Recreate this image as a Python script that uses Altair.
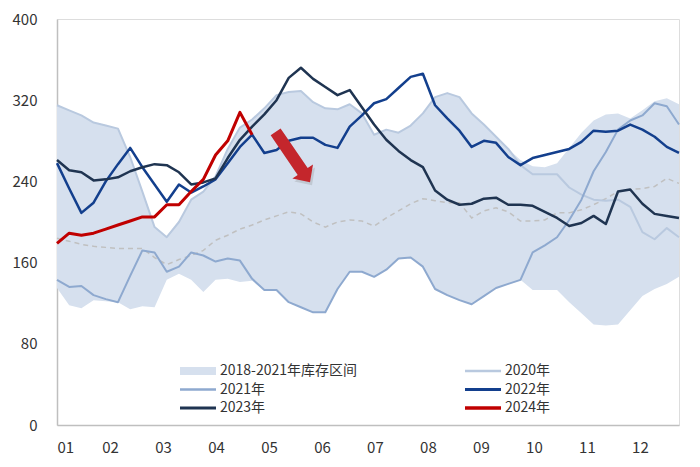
import altair as alt
import pandas as pd

# ---------------- data ----------------
weeks = list(range(1, 53))

band_high = [315, 310, 305, 298, 295, 292, 264, 230, 195, 185, 200, 222, 230, 245, 272, 293,
             301, 312, 325, 328, 329, 318, 312, 311, 316, 307, 286, 291, 288, 295, 307, 323,
             327, 323, 307, 296, 284, 272, 261, 255, 254, 258, 273, 288, 300, 306, 307, 302,
             310, 319, 322, 316]
band_low = [135, 118, 115, 123, 122, 121, 114, 117, 116, 143, 149, 143, 131, 143, 144, 141,
            142, 133, 133, 121, 116, 111, 111, 134, 151, 151, 146, 153, 164, 165, 156, 134,
            128, 123, 119, 127, 135, 139, 143, 133, 133, 133, 121, 110, 99, 98, 99, 113,
            127, 134, 139, 146]
avg_line = [184, 181, 178, 176, 175, 174, 174, 174, 165, 158, 163, 167, 172, 182, 187, 193,
            197, 202, 206, 210, 208, 200, 195, 200, 202, 201, 196, 204, 211, 218, 223, 221,
            219, 219, 204, 211, 214, 210, 201, 201, 202, 209, 209, 212, 217, 223, 230, 232,
            233, 235, 243, 238]
y2020 = [315, 310, 305, 298, 295, 292, 264, 230, 195, 185, 200, 222, 230, 245, 272, 293,
         301, 312, 325, 328, 329, 318, 312, 311, 316, 307, 286, 291, 288, 295, 307, 323,
         327, 323, 307, 296, 284, 272, 256, 247, 247, 247, 234, 227, 222, 221, 222, 215,
         190, 183, 194, 185]
y2021 = [143, 136, 137, 128, 124, 121, 147, 172, 170, 151, 156, 170, 167, 161, 164, 162,
         144, 133, 133, 121, 116, 111, 111, 134, 151, 151, 146, 153, 164, 165, 156, 134,
         128, 123, 119, 127, 135, 139, 143, 170, 177, 185, 202, 222, 250, 269, 291, 300,
         305, 317, 314, 296]
y2022 = [258, 233, 209, 219, 240, 257, 273, 254, 237, 220, 237, 229, 235, 242, 258, 274,
         286, 268, 271, 280, 283, 283, 276, 273, 294, 305, 317, 321, 332, 343, 346, 315,
         302, 290, 274, 280, 278, 264, 256, 263, 266, 269, 272, 279, 290, 289, 290, 296,
         291, 284, 274, 268]
y2023 = [261, 251, 249, 241, 242, 244, 250, 254, 257, 256, 249, 237, 239, 243, 263, 281,
         294, 306, 320, 342, 352, 341, 333, 325, 330, 313, 296, 281, 270, 261, 254, 231,
         222, 217, 218, 223, 224, 217, 217, 216, 210, 204, 196, 199, 206, 198, 230, 232,
         218, 208, 206, 204]
y2024 = [179, 189, 187, 189, 193, 197, 201, 205, 205, 217, 217, 230, 242, 266, 280, 308, 286]

month_ticks = list(range(1, 13))
y_ticks = [0, 80, 160, 240, 320, 400]

series_names = ["2018-2021年库存区间", "2020年", "2021年", "2022年", "2023年", "2024年"]
series_colors = ["#d6e0ee", "#b9c9df", "#8ea9cf", "#133f8d", "#1f3451", "#c00000"]
line_widths = [2, 2, 2, 2.5, 2.5, 3]
legend_shapes = [
    "M-1,-0.22L1,-0.22L1,0.22L-1,0.22Z",
    "M-1,-0.07L1,-0.07L1,0.07L-1,0.07Z",
    "M-1,-0.07L1,-0.07L1,0.07L-1,0.07Z",
    "M-1,-0.08L1,-0.08L1,0.08L-1,0.08Z",
    "M-1,-0.09L1,-0.09L1,0.09L-1,0.09Z",
    "M-1,-0.1L1,-0.1L1,0.1L-1,0.1Z",
]

# arrow annotation (data coordinates: month position, value)
arrow_x = [5.45]
arrow_y = [264]
arrow_path = "M-0.197,1L0.197,1L0.197,-0.574L0.41,-0.574L0,-1L-0.41,-0.574L-0.197,-0.574Z"

# ---------------- tables ----------------
def mpos(w):
    return 1 + (w - 1) * 12 / 52.14

band_df = pd.DataFrame({"x": [mpos(w) for w in weeks], "v": band_high, "lo": band_low})
avg_df = pd.DataFrame({"x": [mpos(w) for w in weeks], "v": avg_line})
legend_df = pd.DataFrame({"series": series_names, "x": [None] * 6, "v": [None] * 6})
arrow_df = pd.DataFrame({"x": arrow_x, "v": arrow_y})

FONT = "Noto Sans CJK SC"
FS = 15
xmax = mpos(52)

x_scale = alt.Scale(domain=[1, xmax], nice=False, zero=False)
y_scale = alt.Scale(domain=[0, 400], nice=False)

x_axis = alt.Axis(values=month_ticks, title=None, grid=False, ticks=False, tickSize=0,
                  labelPadding=15, domainColor="#bfbfbf", domainWidth=1.5,
                  labelFontSize=FS, labelFont=FONT, labelColor="#333333",
                  labelExpr="datum.value < 10 ? '0' + datum.value : '' + datum.value")
y_axis = alt.Axis(values=y_ticks, title=None, grid=False, ticks=False, tickSize=0,
                  labelPadding=20, domainColor="#bfbfbf", domainWidth=1.5,
                  labelFontSize=FS, labelFont=FONT, labelColor="#333333")
x_enc = alt.X("x:Q", scale=x_scale, axis=x_axis)
y_enc = alt.Y("v:Q", scale=y_scale, axis=y_axis)

band = alt.Chart(band_df).mark_area(color=series_colors[0], opacity=1).encode(
    x=x_enc,
    y=y_enc,
    y2="lo:Q",
)

avg = alt.Chart(avg_df).mark_line(color="#c0c0c0", strokeWidth=1.5, strokeDash=[5, 4]).encode(
    x=x_enc, y=y_enc
)

line_layers = []
for name, vals, col, sw in [("2020年", y2020, series_colors[1], line_widths[1]),
                            ("2021年", y2021, series_colors[2], line_widths[2]),
                            ("2022年", y2022, series_colors[3], line_widths[3]),
                            ("2023年", y2023, series_colors[4], line_widths[4]),
                            ("2024年", y2024, series_colors[5], line_widths[5])]:
    df = pd.DataFrame({"x": [mpos(w) for w in weeks[:len(vals)]], "v": vals})
    line_layers.append(
        alt.Chart(df).mark_line(color=col, strokeWidth=sw, strokeJoin="round").encode(
            x=x_enc, y=y_enc)
    )

legend_layer = alt.Chart(legend_df).mark_point(filled=True, opacity=1, strokeWidth=0).encode(
    x=x_enc,
    y=y_enc,
    color=alt.Color("series:N", scale=alt.Scale(domain=series_names, range=series_colors),
                    legend=alt.Legend(title=None, orient="none", legendX=123, legendY=344,
                                      direction="horizontal",
                                      columns=2, symbolSize=1296, symbolStrokeWidth=0,
                                      symbolOpacity=1, clipHeight=16, rowPadding=2.5,
                                      columnPadding=107, labelFont=FONT, labelFontSize=14,
                                      labelColor="#333333", labelOffset=4, labelLimit=300,
                                      padding=0, offset=0)),
    shape=alt.Shape("series:N", scale=alt.Scale(domain=series_names, range=legend_shapes)),
)

arrow_shadow = alt.Chart(arrow_df).mark_point(
    shape=arrow_path, filled=True, size=3721, angle=145.7, color="#7f7f7f",
    opacity=0.25, strokeWidth=0, xOffset=2, yOffset=3
).encode(x=x_enc, y=y_enc)

arrow = alt.Chart(arrow_df).mark_point(
    shape=arrow_path, filled=True, size=3721, angle=145.7, color="#c4262c",
    opacity=1, strokeWidth=0
).encode(x=x_enc, y=y_enc)

chart = alt.layer(band, avg, *line_layers, legend_layer, arrow_shadow, arrow).properties(
    width=622, height=406,
    autosize=alt.AutoSizeParams(type="none"),
    padding={"left": 49, "top": 11, "right": 13, "bottom": 34},
).configure_view(stroke=None).configure(font=FONT)

chart.save("out.html", embed_options={"renderer": "svg", "actions": False})
